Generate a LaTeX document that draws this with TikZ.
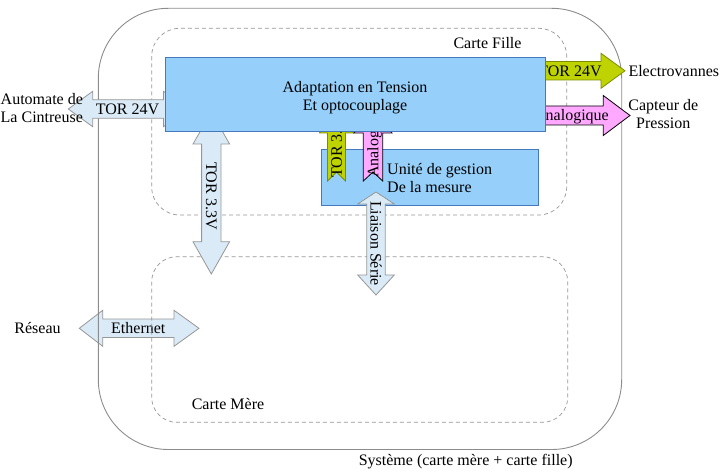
\documentclass[tikz,border=0pt]{standalone}
\usepackage{fontspec}
\setmainfont{Liberation Serif}
\definecolor{boxfill}{RGB}{150,208,250}
\definecolor{boxline}{RGB}{70,120,190}
\definecolor{lbfill}{RGB}{218,235,247}
\definecolor{lbline}{RGB}{150,150,150}
\definecolor{grfill}{RGB}{190,211,0}
\definecolor{grline}{RGB}{125,140,0}
\definecolor{pkfill}{RGB}{255,168,255}
\definecolor{frameline}{RGB}{140,140,140}
\definecolor{dashline}{RGB}{150,150,150}
\begin{document}
\begin{tikzpicture}[x=1pt,y=-1pt,
  font=\fontsize{16}{18.4}\selectfont,
  txt/.style={inner sep=0pt, text height=10.6pt, text depth=0pt},
  mtxt/.style={inner sep=0pt, align=center},
  lbarrow/.style={fill=lbfill, draw=lbline, line width=0.8pt, line join=miter},
  grarrow/.style={fill=grfill, draw=grline, line width=0.8pt, line join=miter},
  pkarrow/.style={fill=pkfill, draw=black, line width=0.8pt, line join=miter},
  bluebox/.style={fill=boxfill, draw=boxline, line width=0.9pt},
  framebox/.style={draw=frameline, line width=0.9pt, rounded corners=70pt},
  dashbox/.style={draw=dashline, line width=0.7pt, dash pattern=on 4pt off 3pt}]
\useasboundingbox (0,0) rectangle (724,476);

% Ethernet (under the frames)
\draw[lbarrow] (79.3,328.3) -- (102.7,310.3) -- (102.7,319.1) -- (174,319.1) -- (174,310.3)
  -- (199,328.3) -- (174,346.3) -- (174,337.5) -- (102.7,337.5) -- (102.7,346.3) -- cycle;
\node[txt] (eth) at (138.3,328) {Ethernet};

% frames
\draw[framebox] (98.3,8.3) rectangle (621.7,449.5);
\draw[dashbox, rounded corners=28pt] (151.7,28.3) rectangle (566.7,215);
\draw[dashbox, rounded corners=25pt] (151.7,256.7) rectangle (567.7,422.3);

% left TOR 24V
\draw[lbarrow] (68.3,109) -- (92.7,91.3) -- (92.7,99.7) -- (163.5,99.7) -- (163.5,91.3)
  -- (187.9,109) -- (163.5,126.7) -- (163.5,118.3) -- (92.7,118.3) -- (92.7,126.7) -- cycle;
\node[txt] (tor24l) at (127.5,109) {TOR 24V};

% TOR 3.3V vertical
\draw[lbarrow] (211.3,112) -- (229.6,144) -- (221,144) -- (221,241.7) -- (229.6,241.7)
  -- (211.3,274) -- (193,241.7) -- (201.6,241.7) -- (201.6,144) -- (193,144) -- cycle;
\node[txt, rotate=-90] (tor33) at (211.3,196) {TOR 3.3V};

% green right arrow
\draw[grarrow] (515,61.6) -- (601,61.6) -- (601,53.3) -- (625,70.8) -- (601,88.3)
  -- (601,80) -- (515,80) -- cycle;
\node[txt] (tor24r) at (570,71) {TOR 24V};

% pink right arrow
\draw[pkarrow] (515,106) -- (603.3,106) -- (603.3,95.5) -- (630,115.5) -- (603.3,135.5)
  -- (603.3,125) -- (515,125) -- cycle;
\node[txt] (analr) at (571.5,115.5) {Analogique};

% Unite box
\draw[bluebox] (321.7,149.3) rectangle (538.3,205.7);
\node[mtxt, align=left, anchor=west] (unite) at (387,178) {Unité de gestion\\De la mesure};

% small green / pink vertical arrows
\draw[grarrow] (336.5,105) -- (353.5,133) -- (345.5,133) -- (345.5,181) -- (336.5,172)
  -- (327.5,181) -- (327.5,133) -- (319.5,133) -- cycle;
\node[txt, rotate=90, anchor=west] (tor33v) at (336.5,178) {TOR 3.3V};
\draw[pkarrow] (373,105) -- (392,133) -- (382.7,133) -- (382.7,181) -- (373,172)
  -- (363.3,181) -- (363.3,133) -- (354,133) -- cycle;
\node[txt, rotate=90, anchor=west] (analv) at (373,178) {Analogique};

% big box
\draw[bluebox] (165,57.7) rectangle (545,131);
\node[mtxt] (adapt) at (355,97.8) {Adaptation en Tension\\Et optocouplage};

% Liaison Serie
\draw[lbarrow] (376,192) -- (394.3,204) -- (385.2,204) -- (385.2,275) -- (394.3,275)
  -- (376,295) -- (357.7,275) -- (366.8,275) -- (366.8,204) -- (357.7,204) -- cycle;
\node[txt, rotate=-90] (liaison) at (376,243.5) {Liaison Série};

% outside labels
\node[mtxt] (automate) at (41.8,108) {Automate de\\La Cintreuse};
\node[mtxt] (capteur) at (663.3,114) {Capteur de\\Pression};
\node[txt, anchor=west] (electro) at (628.3,71) {Electrovannes};
\node[txt] (fille) at (487.5,43) {Carte Fille};
\node[txt] (mere) at (228,404.3) {Carte Mère};
\node[txt] (reseau) at (37.5,328.5) {Réseau};
\node[txt] (systeme) at (465.7,460.5) {Système (carte mère + carte fille)};
\end{tikzpicture}
\end{document}
